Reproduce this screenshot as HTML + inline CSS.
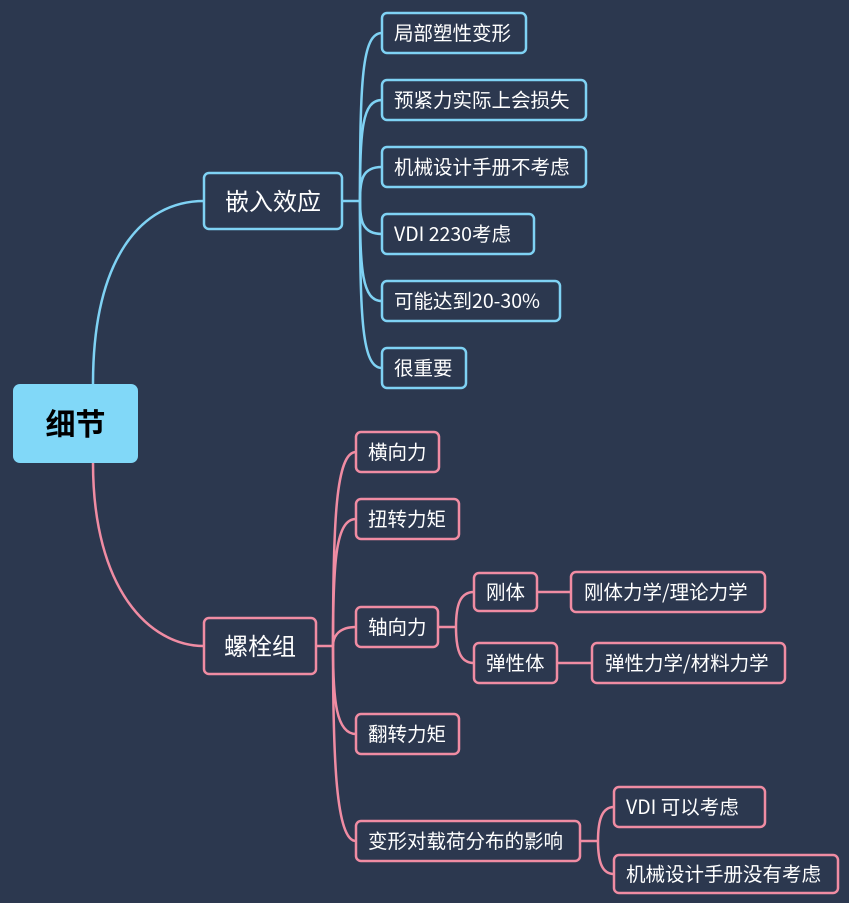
<!DOCTYPE html>
<html><head><meta charset="utf-8"><style>
html,body{margin:0;padding:0;background:#2c384f;}
svg{display:block}
text{font-family:"Noto Sans CJK SC","Liberation Sans",sans-serif;fill:#ffffff;}
</style></head><body>
<svg width="849" height="903" viewBox="0 0 849 903" xmlns="http://www.w3.org/2000/svg">
<rect width="849" height="903" fill="#2c384f"/>
<g fill="none" stroke="#7fd2f4" stroke-width="2.5">
<path d="M93 384 C93 260 140 201 204 201"/>
<path d="M342 201 L360 201"/>
<path d="M360 201 C360 80 362 33 382 33"/>
<path d="M360 201 C360 130 362 100 382 100"/>
<path d="M360 201 C360 180 362 167 382 167"/>
<path d="M360 201 C360 220 362 234 382 234"/>
<path d="M360 201 C360 270 362 301 382 301"/>
<path d="M360 201 C360 320 362 368 382 368"/>
</g>
<g fill="none" stroke="#f08ca3" stroke-width="2.5">
<path d="M93 463 C93 590 150 646 204 646"/>
<path d="M316 646 L333 646"/>
<path d="M333 646 C333 520 336 452 356 452"/>
<path d="M333 646 C333 560 336 519 356 519"/>
<path d="M333 646 C333 635 340 627 356 627"/>
<path d="M333 646 C333 700 336 734 356 734"/>
<path d="M333 646 C333 760 336 841 356 841"/>
<path d="M438 627 L456 627"/>
<path d="M456 627 C456 605 460 592 474 592"/>
<path d="M456 627 C456 650 460 663 474 663"/>
<path d="M537 592 L571 592"/>
<path d="M557 663 L592 663"/>
<path d="M580 841 L598 841"/>
<path d="M598 841 C598 820 602 807 614 807"/>
<path d="M598 841 C598 862 602 874 614 874"/>
</g>
<rect x="13" y="384" width="125" height="79" rx="7" fill="#81d8f8"/>
<text x="75.5" y="435" text-anchor="middle" font-size="30" font-weight="bold" style="fill:#000">细节</text>
<g fill="#2c384f" stroke="#7fd2f4" stroke-width="2.5">
<rect x="204" y="173" width="138" height="56" rx="5"/>
<rect x="382" y="13" width="144" height="40" rx="5"/>
<rect x="382" y="80" width="204" height="40" rx="5"/>
<rect x="382" y="147" width="204" height="40" rx="5"/>
<rect x="382" y="214" width="152" height="40" rx="5"/>
<rect x="382" y="281" width="178" height="40" rx="5"/>
<rect x="382" y="348" width="84" height="40" rx="5"/>
</g>
<g fill="#2c384f" stroke="#f08ca3" stroke-width="2.5">
<rect x="204" y="618" width="112" height="56" rx="5"/>
<rect x="356" y="432" width="83" height="40" rx="5"/>
<rect x="356" y="499" width="103" height="40" rx="5"/>
<rect x="356" y="607" width="82" height="40" rx="5"/>
<rect x="356" y="714" width="103" height="40" rx="5"/>
<rect x="356" y="821" width="224" height="40" rx="5"/>
<rect x="474" y="573" width="63" height="38" rx="5"/>
<rect x="474" y="643" width="83" height="40" rx="5"/>
<rect x="571" y="572" width="194" height="40" rx="5"/>
<rect x="592" y="643" width="193" height="40" rx="5"/>
<rect x="614" y="787" width="151" height="40" rx="5"/>
<rect x="614" y="855" width="224" height="38" rx="5"/>
</g>
<g font-size="24">
<text x="273" y="210" text-anchor="middle">嵌入效应</text>
<text x="260" y="655" text-anchor="middle">螺栓组</text>
</g>
<g font-size="19.5">
<text x="394" y="40">局部塑性变形</text>
<text x="394" y="107">预紧力实际上会损失</text>
<text x="394" y="174">机械设计手册不考虑</text>
<text x="394" y="241">VDI 2230考虑</text>
<text x="394" y="308">可能达到20-30%</text>
<text x="394" y="375">很重要</text>
<text x="368" y="459">横向力</text>
<text x="368" y="526">扭转力矩</text>
<text x="368" y="634">轴向力</text>
<text x="368" y="741">翻转力矩</text>
<text x="368" y="848">变形对载荷分布的影响</text>
<text x="486" y="599">刚体</text>
<text x="486" y="670">弹性体</text>
<text x="584" y="599">刚体力学/理论力学</text>
<text x="605" y="670">弹性力学/材料力学</text>
<text x="626" y="814">VDI 可以考虑</text>
<text x="626" y="881">机械设计手册没有考虑</text>
</g>
</svg>
</body></html>
